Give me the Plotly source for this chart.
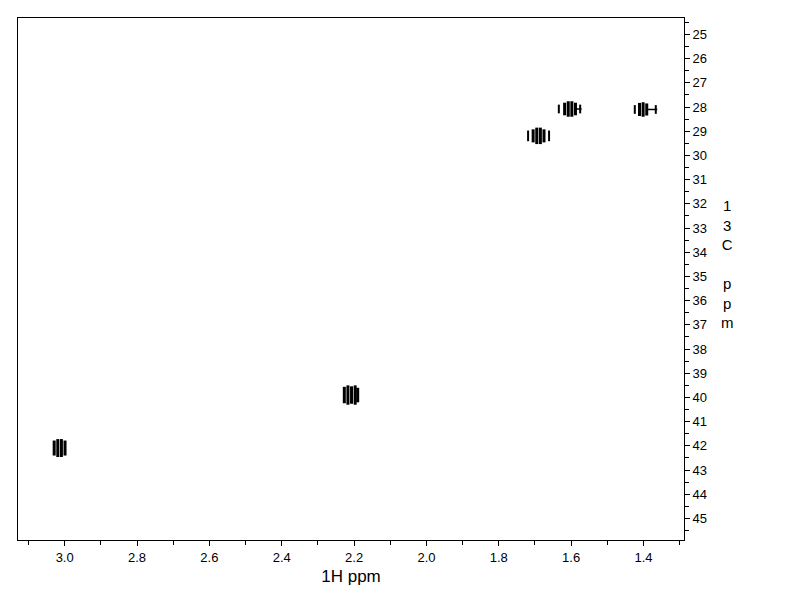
import plotly.graph_objects as go

# ---- data: HSQC cross-peaks (1H ppm, 13C ppm) ----
peak_names = ["A", "B", "C", "D", "E"]
peak_c = [42.09, 39.90, 29.19, 28.08, 28.10]          # 13C centre of each cross peak
# multiplet component positions (1H ppm) for each peak
peak_lines_h = [
    [3.029, 3.019, 3.009, 2.999],
    [2.227, 2.217, 2.207, 2.197, 2.190],
    [1.705, 1.695, 1.685, 1.675],
    [1.618, 1.608, 1.598, 1.588],
    [1.411, 1.401, 1.391],
]
# half height (13C ppm) of each multiplet component
peak_half_c = [
    [0.31, 0.37, 0.37, 0.31],
    [0.34, 0.40, 0.36, 0.40, 0.30],
    [0.27, 0.34, 0.34, 0.27],
    [0.26, 0.32, 0.32, 0.26],
    [0.27, 0.30, 0.25],
]
# weak outer components (1H ppm)
outer_h = [[], [], [1.719, 1.661], [1.634, 1.575], [1.424, 1.366]]
outer_half_c = [0.0, 0.0, 0.22, 0.18, 0.18]
# horizontal tails (1H start, 1H end)
tail_h = [None, None, None, (1.586, 1.571), (1.388, 1.362)]

x_ticks = [3.0, 2.8, 2.6, 2.4, 2.2, 2.0, 1.8, 1.6, 1.4]
y_ticks = list(range(25, 46))

fig = go.Figure()

main_x, main_y, outer_x, outer_y, tail_x, tail_y = [], [], [], [], [], []
for i in range(len(peak_names)):
    c = peak_c[i]
    for h, hh in zip(peak_lines_h[i], peak_half_c[i]):
        main_x += [h, h, None]
        main_y += [c - hh, c + hh, None]
    for h in outer_h[i]:
        outer_x += [h, h, None]
        outer_y += [c - outer_half_c[i], c + outer_half_c[i], None]
    if tail_h[i] is not None:
        tail_x += [tail_h[i][0], tail_h[i][1], None]
        tail_y += [c, c, None]

fig.add_trace(go.Scatter(x=main_x, y=main_y, mode="lines",
                         line=dict(color="black", width=3), hoverinfo="skip",
                         showlegend=False))
fig.add_trace(go.Scatter(x=outer_x, y=outer_y, mode="lines",
                         line=dict(color="black", width=2), hoverinfo="skip",
                         showlegend=False))
fig.add_trace(go.Scatter(x=tail_x, y=tail_y, mode="lines",
                         line=dict(color="black", width=1.5), hoverinfo="skip",
                         showlegend=False))

fig.update_layout(
    width=792, height=612,
    margin=dict(l=10, r=116, t=10, b=80),
    paper_bgcolor="white", plot_bgcolor="white",
    font=dict(family="Liberation Sans, Arial, sans-serif", color="black", size=13),
    xaxis=dict(
        range=[3.129, 1.288],
        tickmode="array", tickvals=x_ticks, ticktext=[f"{v:.1f}" for v in x_ticks],
        ticks="outside", ticklen=5, tickwidth=1, tickcolor="black",
        minor=dict(dtick=0.1, tick0=0, ticks="outside", ticklen=4, tickcolor="black"),
        showline=True, linecolor="black", linewidth=1, mirror=True,
        showgrid=False, zeroline=False,
        title=dict(text="1H ppm", font=dict(size=17), standoff=6),
        tickfont=dict(size=13),
    ),
    yaxis=dict(
        range=[45.89, 24.32], side="right",
        tickmode="array", tickvals=y_ticks, ticktext=[str(v) for v in y_ticks],
        ticks="outside", ticklen=5, tickwidth=1, tickcolor="black",
        minor=dict(dtick=0.5, tick0=0, ticks="outside", ticklen=4, tickcolor="black"),
        showline=True, linecolor="black", linewidth=1, mirror=True,
        showgrid=False, zeroline=False,
        tickfont=dict(size=13),
    ),
    annotations=[dict(
        text="1<br>3<br>C<br><br>p<br>p<br>m",
        xref="paper", yref="paper", x=1.0646, y=0.529,
        xanchor="center", yanchor="middle", showarrow=False,
        font=dict(size=15, color="black"), align="center",
    )],
)

fig.write_html("out.html")
